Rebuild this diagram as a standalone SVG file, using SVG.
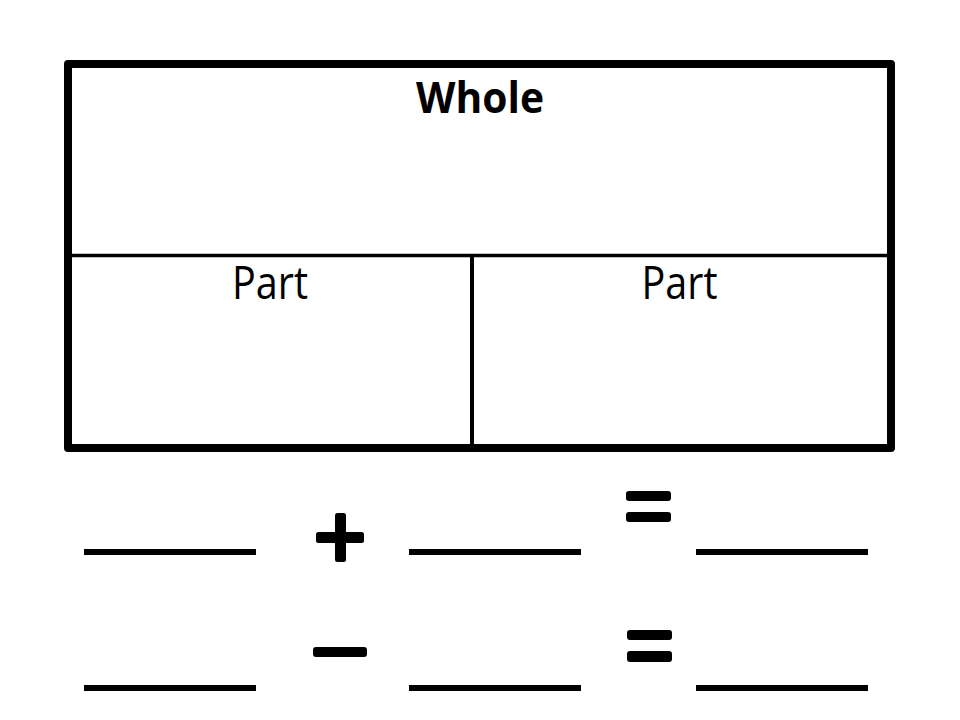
<svg xmlns="http://www.w3.org/2000/svg" width="960" height="720" viewBox="0 0 960 720">
<style>
.lbl{font-family:"Open Sans","Liberation Sans",sans-serif;fill:#000;text-anchor:middle}
.blank{fill:#000}
.sym{fill:#000}
</style>
<rect width="960" height="720" fill="#fff"/>
<g id="connectors">
<line x1="68" y1="255.5" x2="891" y2="255.5" stroke="#000" stroke-width="3.5"/>
<line x1="472" y1="255.5" x2="472" y2="448" stroke="#000" stroke-width="4"/>
</g>
<g id="whole">
<rect x="68" y="64" width="823" height="384" fill="none" stroke="#000" stroke-width="8" stroke-linejoin="round"/>
<text class="lbl" x="480" y="113" font-size="43" font-weight="bold" textLength="128" lengthAdjust="spacingAndGlyphs">Whole</text>
</g>
<g id="part1">
<text class="lbl" x="270" y="299" font-size="46" textLength="76" lengthAdjust="spacingAndGlyphs">Part</text>
</g>
<g id="part2">
<text class="lbl" x="679.5" y="299" font-size="46" textLength="76" lengthAdjust="spacingAndGlyphs">Part</text>
</g>
<g id="equation-add">
<rect class="blank" x="84" y="549" width="172" height="6"/>
<rect class="sym" x="335" y="513" width="11" height="49" rx="2.5"/>
<rect class="sym" x="316" y="532" width="48" height="11" rx="2.5"/>
<rect class="blank" x="409" y="549" width="172" height="6"/>
<rect class="sym" x="626" y="491" width="45" height="10" rx="3"/>
<rect class="sym" x="626" y="512" width="45" height="10" rx="3"/>
<rect class="blank" x="696" y="549" width="172" height="6"/>
</g>
<g id="equation-subtract">
<rect class="blank" x="84" y="685" width="172" height="6"/>
<rect class="sym" x="313" y="647" width="54" height="10" rx="3"/>
<rect class="blank" x="409" y="685" width="172" height="6"/>
<rect class="sym" x="627" y="630" width="45" height="10" rx="3"/>
<rect class="sym" x="627" y="651" width="45" height="11" rx="3"/>
<rect class="blank" x="696" y="685" width="172" height="6"/>
</g>
</svg>
